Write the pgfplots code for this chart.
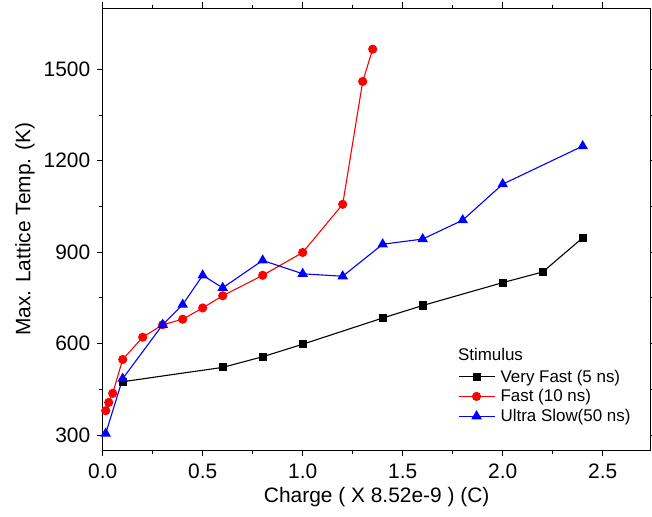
\documentclass[border=0pt]{standalone}
\usepackage{pgfplots}
\pgfplotsset{compat=1.18}
\usepackage{fontspec}
\setmainfont{Liberation Sans}
\begin{document}
\begin{tikzpicture}
\path[use as bounding box] (-102.7bp,-66bp) rectangle (549.3bp,450.3bp);
\begin{axis}[
  at={(0,0)}, anchor=south west,
  scale only axis, width=548bp, height=442bp,
  xmin=0, xmax=2.74, ymin=250, ymax=1700,
  xtick={0,0.5,1,1.5,2,2.5}, minor x tick num=1,
  ytick={300,600,900,1200,1500}, minor y tick num=1,
  tick align=outside,
  major tick length=6bp, minor tick length=3.5bp,
  every tick/.style={black, line width=0.8bp},
  axis line style={line width=0.9bp},
  /pgf/number format/assume math mode=true,
  xticklabel style={/pgf/number format/.cd,fixed,fixed zerofill,precision=1,/tikz/.cd,yshift=-4bp},
  yticklabel style={/pgf/number format/.cd,1000 sep={},/tikz/.cd,xshift=-3bp},
  tick label style={font=\fontsize{21}{23}\selectfont},
  label style={font=\fontsize{21}{23}\selectfont},
  xlabel={Charge ( X 8.52e-9 ) (C)},
  ylabel={Max. Lattice Temp. (K)},
  xlabel style={at={(axis description cs:0.5,-0.106)}, anchor=center},
  ylabel style={at={(axis description cs:-0.142,0.5)}, anchor=center},
  legend style={at={(0.648,0.186)}, anchor=north west, draw=none, fill=none,
    font=\fontsize{17}{19}\selectfont, row sep=3bp, column sep=4bp, inner sep=0pt,
    nodes={inner sep=1.5bp}},
  legend cell align=left,
  legend image code/.code={\draw[mark repeat=2,mark phase=2,#1] plot coordinates {(0bp,0bp) (18bp,0bp) (36bp,0bp)};},
]
\addplot[black, line width=1.1bp, mark=square*, mark size=3.5bp, mark options={solid}] coordinates {
(0.1,475) (0.6,522) (0.8,557) (1.0,598) (1.4,684) (1.6,725) (2.0,800) (2.2,835) (2.4,947)};
\addlegendentry{Very Fast (5 ns)}
\addplot[red, line width=1.1bp, mark=*, mark size=4bp, mark options={solid}] coordinates {
(0.015,380) (0.03,407) (0.05,437) (0.1,548) (0.2,621) (0.3,662) (0.4,680) (0.5,717) (0.6,757) (0.8,824) (1.0,899) (1.2,1057) (1.3,1460) (1.35,1566)};
\addlegendentry{Fast (10 ns)}
\addplot[blue, line width=1.1bp, mark=triangle*, mark size=5bp, mark options={solid}] coordinates {
(0.015,305) (0.1,485) (0.3,662) (0.4,728) (0.5,824) (0.6,783) (0.8,873) (1.0,829) (1.2,821) (1.4,926) (1.6,943) (1.8,1005) (2.0,1123) (2.4,1248)};
\addlegendentry{Ultra Slow(50 ns)}
\node[anchor=west, font=\fontsize{17}{19}\selectfont, inner sep=0pt] at (axis description cs:0.648,0.217) {Stimulus};
\end{axis}
\end{tikzpicture}
\end{document}
